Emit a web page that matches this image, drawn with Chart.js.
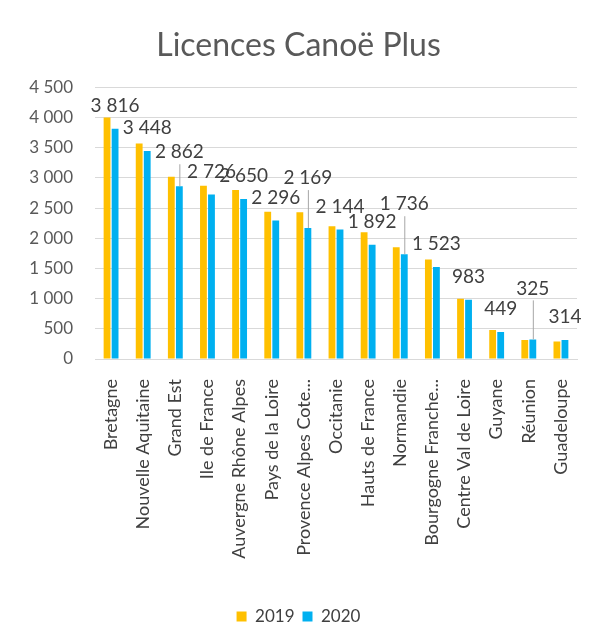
<!DOCTYPE html>
<html>
<head>
<meta charset="utf-8">
<script src="https://cdn.jsdelivr.net/npm/chart.js@4/dist/chart.umd.min.js"></script>
<style>
  html, body { margin: 0; padding: 0; background: #fff; }
  #wrap { width: 598px; height: 628px; }
</style>
</head>
<body>
<div id="wrap"><canvas id="myChart" width="598" height="628"></canvas></div>
<script>
const regions = ['Bretagne', 'Nouvelle Aquitaine', 'Grand Est', 'Ile de France', 'Auvergne Rhône Alpes',
  'Pays de la Loire', 'Provence Alpes Cote...', 'Occitanie', 'Hauts de France', 'Normandie',
  'Bourgogne Franche...', 'Centre Val de Loire', 'Guyane', 'Réunion', 'Guadeloupe'];
const licences2019 = [4000, 3570, 3020, 2870, 2800, 2440, 2430, 2200, 2100, 1850, 1650, 1000, 480, 315, 290];
const licences2020 = [3816, 3448, 2862, 2726, 2650, 2296, 2169, 2144, 1892, 1736, 1523, 983, 449, 325, 314];
const yTicks = [0, 500, 1000, 1500, 2000, 2500, 3000, 3500, 4000, 4500];

const fmt = v => String(v).replace(/\B(?=(\d{3})+(?!\d))/g, ' ');

// labels Excel moved up by hand, with a leader line
const lifted = { 2: 11, 6: 27, 9: 27, 13: 28 };

const dataLabels = {
  id: 'dataLabels',
  afterDatasetsDraw(chart) {
    const ctx = chart.ctx;
    const meta = chart.getDatasetMeta(1);
    ctx.save();
    ctx.font = '19px Lato';
    ctx.fillStyle = '#404040';
    ctx.textAlign = 'center';
    ctx.textBaseline = 'middle';
    meta.data.forEach((bar, i) => {
      const extra = lifted[i] || 0;
      const y = bar.y - 23 - extra;
      ctx.fillText(fmt(licences2020[i]), bar.x, y);
      if (extra) {
        ctx.strokeStyle = '#a6a6a6';
        ctx.lineWidth = 1;
        ctx.beginPath();
        ctx.moveTo(bar.x + 0.5, y + 12);
        ctx.lineTo(bar.x + 0.5, bar.y);
        ctx.stroke();
      }
    });
    ctx.restore();
  }
};

const ctx = document.getElementById('myChart').getContext('2d');
const chart = new Chart(ctx, {
  type: 'bar',
  data: {
    labels: regions,
    datasets: [
      { label: '2019', data: licences2019, backgroundColor: '#FFC000',
        categoryPercentage: 0.5, barPercentage: 0.85 },
      { label: '2020', data: licences2020, backgroundColor: '#00B0F0',
        categoryPercentage: 0.5, barPercentage: 0.85 }
    ]
  },
  options: {
    responsive: false,
    animation: false,
    layout: { padding: { left: 20, right: 21, top: 26, bottom: -7 } },
    plugins: {
      title: {
        display: true,
        text: 'Licences Canoë Plus',
        color: '#595959',
        font: { family: 'Lato', size: 32, weight: 'normal' },
        padding: { top: 0, bottom: 23 }
      },
      legend: {
        position: 'bottom',
        labels: {
          color: '#404040',
          font: { family: 'Lato', size: 17 },
          boxWidth: 10, boxHeight: 10, padding: 8
        }
      },
      tooltip: { enabled: false }
    },
    scales: {
      y: {
        min: 0, max: 4500,
        afterFit: s => { s.width = 75; },
        afterBuildTicks: s => { s.ticks = yTicks.map(v => ({ value: v })); },
        border: { display: false },
        grid: { color: '#d9d9d9', drawTicks: false },
        ticks: {
          padding: 22,
          color: '#595959',
          font: { family: 'Lato', size: 17 },
          callback: v => fmt(v)
        }
      },
      x: {
        afterFit: s => { s.height = 241; },
        border: { color: '#d9d9d9' },
        grid: { display: false },
        ticks: {
          minRotation: 90, maxRotation: 90, autoSkip: false,
          padding: 12,
          color: '#404040',
          font: { family: 'Lato', size: 18 }
        }
      }
    }
  },
  plugins: [dataLabels]
});
</script>
</body>
</html>
